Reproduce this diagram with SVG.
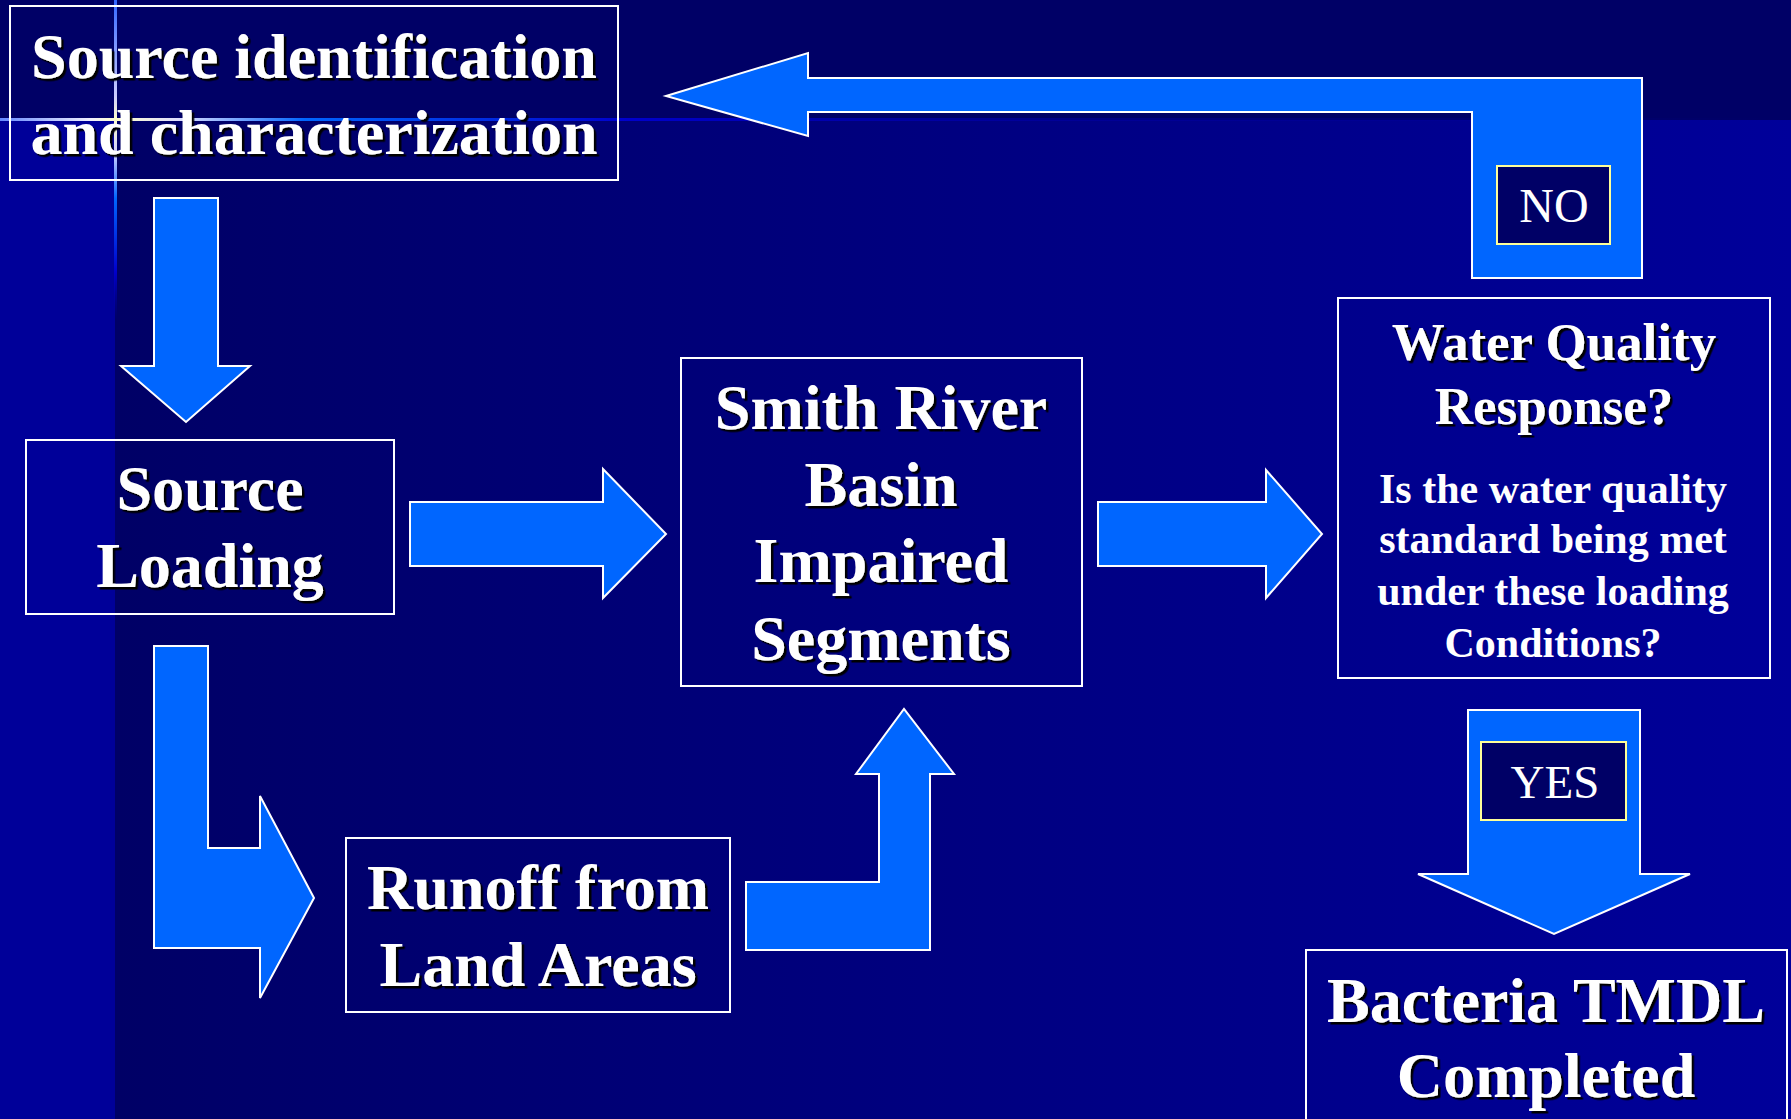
<svg xmlns="http://www.w3.org/2000/svg" width="1791" height="1119" viewBox="0 0 1791 1119">
<defs>
  <linearGradient id="bgMain" x1="115" y1="0" x2="1791" y2="0" gradientUnits="userSpaceOnUse">
    <stop offset="0" stop-color="#000066"/>
    <stop offset="1" stop-color="#00009a"/>
  </linearGradient>
  <linearGradient id="hLine" x1="0" y1="0" x2="1791" y2="0" gradientUnits="userSpaceOnUse">
    <stop offset="0" stop-color="#6688ff"/>
    <stop offset="0.05" stop-color="#eeeeff"/>
    <stop offset="0.065" stop-color="#ffffcc"/>
    <stop offset="0.1" stop-color="#ddddff"/>
    <stop offset="0.17" stop-color="#0066ff"/>
    <stop offset="0.35" stop-color="#0000cc"/>
    <stop offset="0.6" stop-color="#0000aa" stop-opacity="0.5"/>
    <stop offset="1" stop-color="#000099" stop-opacity="0"/>
  </linearGradient>
  <linearGradient id="vLine" x1="0" y1="0" x2="0" y2="320" gradientUnits="userSpaceOnUse">
    <stop offset="0" stop-color="#3366ff"/>
    <stop offset="0.3" stop-color="#ccccff"/>
    <stop offset="0.37" stop-color="#ffffcc"/>
    <stop offset="0.48" stop-color="#ccccff"/>
    <stop offset="0.62" stop-color="#0066ff"/>
    <stop offset="0.85" stop-color="#0000cc"/>
    <stop offset="1" stop-color="#000099" stop-opacity="0"/>
  </linearGradient>
  <filter id="sh" x="-5%" y="-20%" width="110%" height="140%">
    <feDropShadow dx="2.5" dy="2.5" stdDeviation="0.3" flood-color="#000000" flood-opacity="1"/>
  </filter>
  <style>
    .box { fill: none; stroke: #ffffff; stroke-width: 2; }
    .arrow { fill: #0066ff; stroke: #ffffff; stroke-width: 2; stroke-linejoin: miter; }
    .tag { fill: #000066; stroke: #ffff99; stroke-width: 2; }
    .big { font-family: "Liberation Serif", "Times New Roman", serif; font-weight: bold; font-size: 64px; fill: #ffffff; text-anchor: middle; filter: url(#sh); }
    .mid { font-family: "Liberation Serif", "Times New Roman", serif; font-weight: bold; font-size: 53px; fill: #ffffff; text-anchor: middle; filter: url(#sh); }
    .small { font-family: "Liberation Serif", "Times New Roman", serif; font-weight: bold; font-size: 42px; fill: #ffffff; text-anchor: middle; }
    .tagtext { font-family: "Liberation Serif", "Times New Roman", serif; font-size: 48px; fill: #ffffff; text-anchor: middle; }
  </style>
</defs>

<!-- background -->
<rect x="0" y="0" width="1791" height="1119" fill="url(#bgMain)"/>
<rect x="0" y="120" width="115" height="999" fill="#000099"/>
<rect x="0" y="0" width="1791" height="120" fill="#000066"/>
<rect x="0" y="118" width="1791" height="3" fill="url(#hLine)"/>
<rect x="114" y="0" width="3" height="320" fill="url(#vLine)"/>

<!-- connectors -->
<g id="connectors">
  <polygon id="arrow-no" class="arrow" points="666,96 808,53 808,78 1642,78 1642,278 1472,278 1472,112 808,112 808,136"/>
  <polygon id="arrow-down-1" class="arrow" points="154,198 218,198 218,366 250,366 186,422 121,366 154,366"/>
  <polygon id="arrow-right-1" class="arrow" points="410,502 603,502 603,469 666,534 603,598 603,566 410,566"/>
  <polygon id="arrow-right-2" class="arrow" points="1098,502 1266,502 1266,470 1322,534 1266,598 1266,566 1098,566"/>
  <polygon id="arrow-bend-down" class="arrow" points="154,646 208,646 208,848 260,848 260,796 314,898 260,998 260,948 154,948"/>
  <polygon id="arrow-bend-up" class="arrow" points="746,882 879,882 879,774 856,774 904,709 954,774 930,774 930,950 746,950"/>
  <polygon id="arrow-yes" class="arrow" points="1468,710 1640,710 1640,874 1690,874 1554,934 1418,874 1468,874"/>
  <g id="label-no">
    <rect class="tag" x="1497" y="166" width="113" height="78"/>
    <text class="tagtext" x="1554" y="222">NO</text>
  </g>
  <g id="label-yes">
    <rect class="tag" x="1481" y="742" width="145" height="78"/>
    <text class="tagtext" x="1555" y="798" style="font-size:47px">YES</text>
  </g>
</g>

<!-- nodes -->
<g id="node-source-id">
  <rect class="box" x="10" y="6" width="608" height="174"/>
  <text class="big" x="314" y="78">Source identification</text>
  <text class="big" x="314" y="154">and characterization</text>
</g>

<g id="node-source-loading">
  <rect class="box" x="26" y="440" width="368" height="174"/>
  <text class="big" x="210" y="510">Source</text>
  <text class="big" x="210" y="587">Loading</text>
</g>

<g id="node-smith-river">
  <rect class="box" x="681" y="358" width="401" height="328"/>
  <text class="big" x="881" y="429">Smith River</text>
  <text class="big" x="881" y="506">Basin</text>
  <text class="big" x="881" y="582">Impaired</text>
  <text class="big" x="881" y="660">Segments</text>
</g>

<g id="node-water-quality">
  <rect class="box" x="1338" y="298" width="432" height="380"/>
  <text class="mid" x="1554" y="360">Water Quality</text>
  <text class="mid" x="1554" y="424">Response?</text>
  <text class="small" x="1553" y="503">Is the water quality</text>
  <text class="small" x="1553" y="553">standard being met</text>
  <text class="small" x="1553" y="605">under these loading</text>
  <text class="small" x="1553" y="657">Conditions?</text>
</g>

<g id="node-runoff">
  <rect class="box" x="346" y="838" width="384" height="174"/>
  <text class="big" x="538" y="909">Runoff from</text>
  <text class="big" x="538" y="986">Land Areas</text>
</g>

<g id="node-bacteria">
  <rect class="box" x="1306" y="950" width="481" height="180"/>
  <text class="big" x="1546" y="1022">Bacteria TMDL</text>
  <text class="big" x="1546" y="1097">Completed</text>
</g>
</svg>
